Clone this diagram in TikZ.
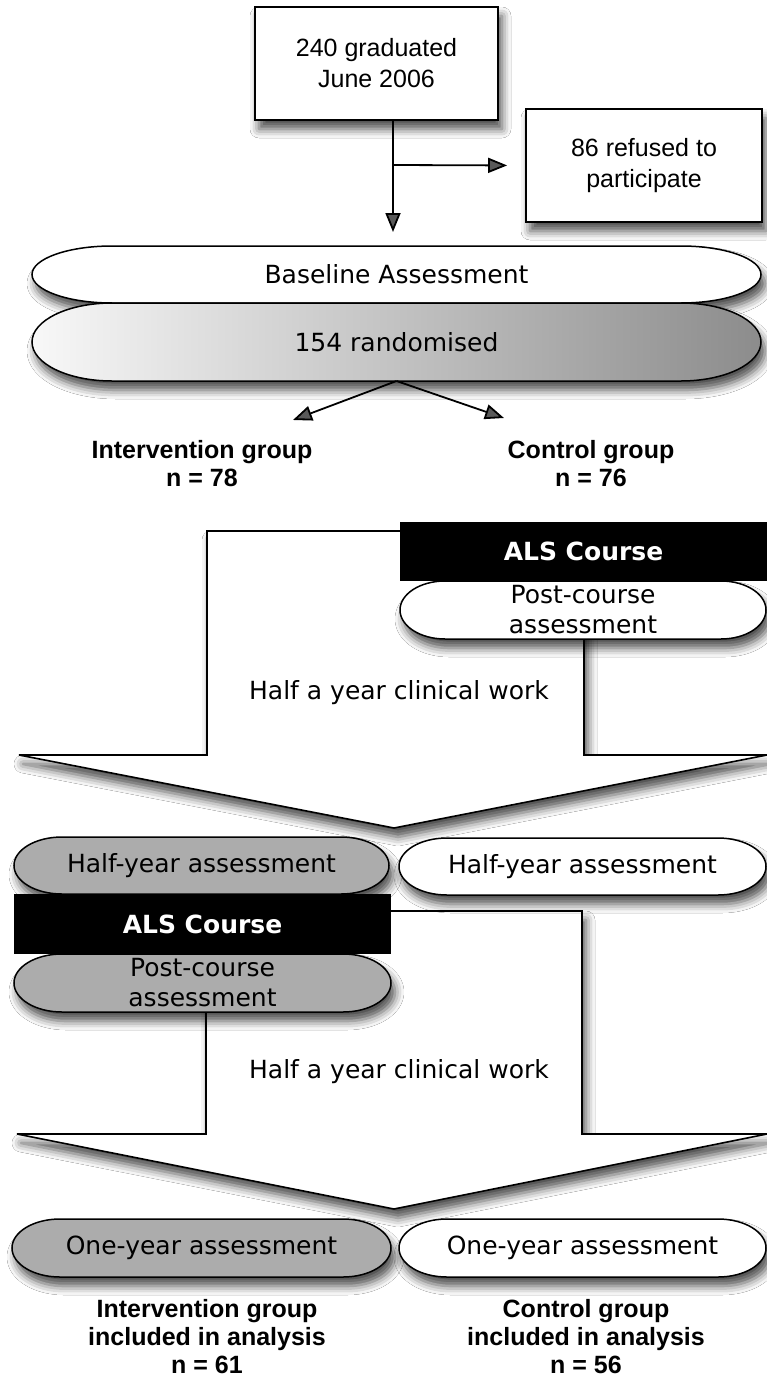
\documentclass[tikz,border=0pt]{standalone}
\usepackage{fontspec}
\setmainfont{Liberation Sans}
\newfontfamily\pillfont{DejaVu Sans}
\usetikzlibrary{arrows.meta,shadows.blur}

\definecolor{pillgray}{RGB}{172,172,172}
\definecolor{randleft}{RGB}{248,248,248}
\definecolor{randright}{RGB}{140,140,140}

\newcommand{\pillnode}[8]{%
  \path[pill,#1] (#3-#5/2+#7,#4+#6/2) -- (#3+#5/2-#7,#4+#6/2)
    arc[start angle=90,end angle=-90,x radius=#7pt,y radius=#6pt/2]
    -- (#3-#5/2+#7,#4-#6/2)
    arc[start angle=270,end angle=90,x radius=#7pt,y radius=#6pt/2] -- cycle;
  \node[pilltext, minimum width=#5, minimum height=#6] (#2) at (#3,#4) {#8};}

\begin{document}
\begin{tikzpicture}[
  x=1pt, y=1pt,
  soft/.style={
    blur shadow={shadow xshift=4pt, shadow yshift=-9pt, shadow blur radius=9pt, shadow opacity=70}
  },
  flowbox/.style={
    draw,
    line width=1.8pt,
    fill=white,
    soft,
    align=center,
    minimum height=113,
    font=\fontsize{25}{31}\selectfont
  },
  pilltext/.style={
    inner sep=0pt,
    outer sep=0pt,
    align=center,
    font=\pillfont\fontsize{25}{30}\selectfont
  },
  pill/.style={draw, line width=1.5pt, soft},
  alsbox/.style={
    fill=black,
    text=white,
    inner sep=0pt,
    outer sep=0pt,
    font=\pillfont\bfseries\fontsize{25}{30}\selectfont
  },
  group/.style={align=center, font=\bfseries\fontsize{25}{28}\selectfont},
  bigarrow/.style={draw, fill=white, line width=1.6pt, soft},
  flow/.style={-{Triangle[length=19pt,width=15pt]}, line width=1.8pt}
]
\useasboundingbox (0,0) rectangle (767,-1378);
\fill[white] (0,0) rectangle (767,-1378);

\draw[bigarrow] (207,-531) -- (584,-531) -- (584,-755) -- (767,-755) -- (394,-828) -- (19,-755) -- (207,-755) -- cycle;
\draw[bigarrow] (206,-911) -- (582,-911) -- (582,-1134) -- (767,-1134) -- (394,-1209) -- (17,-1134) -- (206,-1134) -- cycle;

\node[flowbox, minimum width=243] (grad) at (376.5,-63.5) {240 graduated\\June 2006};
\node[flowbox, minimum width=236] (refused) at (644,-165.5) {86 refused to\\participate};
\coordinate (split) at (393,-165);

\pillnode{fill=white}{base}{396.5}{-274.5}{729}{57}{80}{Baseline Assessment}
\pillnode{left color=randleft, right color=randright}{rand}{396.5}{-342}{729}{78}{80}{154 randomised}
\coordinate (tointv) at (293,-420);
\coordinate (toctrl) at (504,-418);
\node[group] (intv) at (202,-464) {Intervention group\\n = 78};
\node[group] (ctrl) at (591,-464) {Control group\\n = 76};

\node[alsbox, minimum width=367, minimum height=59] (als1) at (583.5,-551.5) {ALS Course};
\pillnode{fill=white}{post1}{583}{-610}{366}{58}{45}{Post-course\\assessment}
\node[pilltext] (work1) at (399,-693) {Half a year clinical work};

\pillnode{fill=pillgray}{halfint}{201.5}{-865.5}{375}{57}{48}{Half-year assessment}
\pillnode{fill=white}{halfctl}{582.5}{-866.5}{367}{57}{48}{Half-year assessment}
\node[alsbox, minimum width=377, minimum height=60] (als2) at (202.5,-924) {ALS Course};
\pillnode{fill=pillgray}{post2}{202.5}{-983}{377}{58}{48}{Post-course\\assessment}
\node[pilltext] (work2) at (399,-1072) {Half a year clinical work};

\pillnode{fill=pillgray}{oneint}{201.5}{-1248}{379}{58}{48}{One-year assessment}
\pillnode{fill=white}{onectl}{582.5}{-1248}{367}{58}{48}{One-year assessment}
\node[group] (intvend) at (207,-1337) {Intervention group\\included in analysis\\n = 61};
\node[group] (ctrlend) at (586,-1337) {Control group\\included in analysis\\n = 56};

\draw[flow, shorten >=14pt] (grad.south -| split) -- (base.north -| split);
\draw[flow, shorten >=18pt] (split) -- (refused.west);
\draw[flow] (rand.south) -- (tointv);
\draw[flow] (rand.south) -- (toctrl);
\end{tikzpicture}
\end{document}
